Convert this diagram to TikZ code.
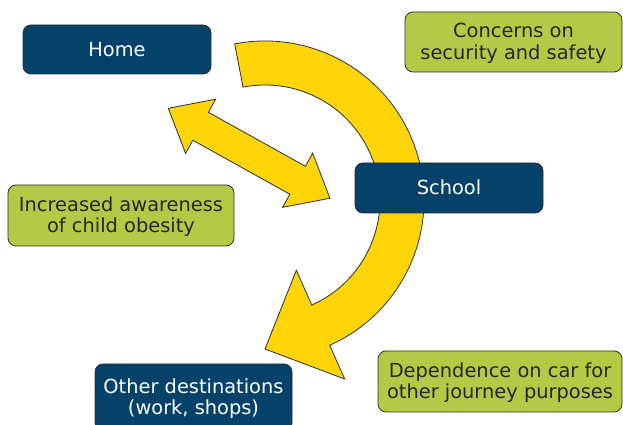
\documentclass[tikz,border=0pt]{standalone}
\usepackage{fontspec}
\setmainfont{DejaVu Sans}
\definecolor{navy}{HTML}{04426A}
\definecolor{leaf}{HTML}{B4CA47}
\definecolor{sun}{HTML}{FFD508}
\definecolor{edge}{HTML}{2E2E2E}
\definecolor{gtext}{HTML}{262626}
\newcommand\mystrut{\rule[-3pt]{0pt}{20pt}}
\tikzset{
  box/.style={draw=edge, line width=0.8pt, rounded corners=8pt, inner sep=0pt,
    align=center, font=\fontsize{19.4}{21.8}\selectfont},
  bluebox/.style={box, fill=navy, text=white},
  greenbox/.style={box, fill=leaf, text=gtext},
  blockarrow/.style={draw=edge, line width=0.8pt, fill=sun, line join=miter}
}
\begin{document}
\begin{tikzpicture}[x=1pt,y=1pt]
\useasboundingbox (0,0) rectangle (623,425);

% big curved arrow: Home -> School -> Other destinations
\begin{scope}[shift={(265,225)}]
  \coordinate (tailout) at (101:159);
  \coordinate (tip) at (0,-149);
  \draw[blockarrow] (tailout) arc[start angle=101, end angle=-66, radius=159]
    -- (-66:196) -- (tip) -- (-66:77) -- (-66:115)
    arc[start angle=-66, end angle=101, radius=115] -- cycle;
\end{scope}

% double-headed block arrow between Home and School
\begin{scope}[shift={(168.3,316.7)}, rotate=-29.1]
  \coordinate (dA) at (0,0);
  \coordinate (dB) at (185,0);
  \draw[blockarrow] (dA) -- (37,31) -- (37,16) -- (148,16) -- (148,31) -- (dB)
    -- (148,-31) -- (148,-16) -- (37,-16) -- (37,-31) -- cycle;
\end{scope}

\node[bluebox, minimum width=188pt, minimum height=49pt] (home) at (117,375.5) {\mystrut Home};
\node[greenbox, minimum width=217pt, minimum height=60pt] (concerns) at (513.5,383) {\mystrut Concerns on\\\mystrut security and safety};
\node[bluebox, minimum width=188pt, minimum height=50pt] (school) at (449,237) {\mystrut School};
\node[greenbox, minimum width=226pt, minimum height=61pt] (obesity) at (121,209.5) {\mystrut Increased awareness\\\mystrut of child obesity};
\node[bluebox, minimum width=197pt, minimum height=67pt] (other) at (193.5,27.5) {\mystrut Other destinations\\\mystrut (work, shops)};
\node[greenbox, minimum width=244pt, minimum height=61pt] (car) at (500,43.5) {\mystrut Dependence on car for\\\mystrut other journey purposes};
\end{tikzpicture}
\end{document}
